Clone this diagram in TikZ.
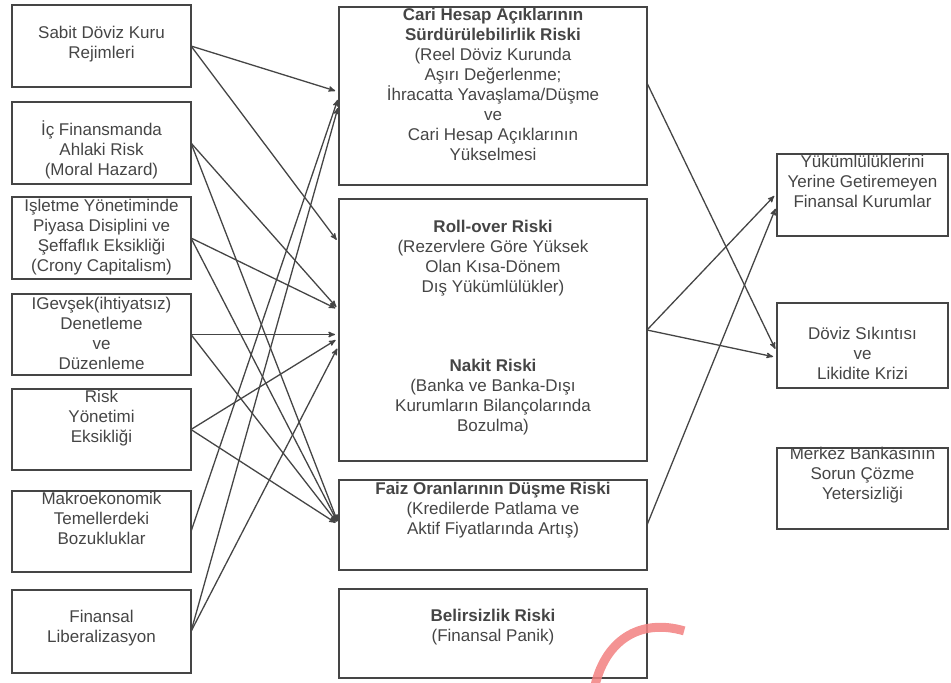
\documentclass[tikz,border=0pt]{standalone}
\usepackage{fontspec}
\setmainfont{Liberation Sans}
\usetikzlibrary{arrows,calc,positioning}
\definecolor{inkgray}{gray}{0.27}
\definecolor{stampred}{RGB}{242,128,128}

\begin{document}
\begin{tikzpicture}[x=1pt,y=-1pt,->,>=stealth',shorten >=4pt,
  line width=1.3pt,color=inkgray,
  box/.style={rectangle,draw=inkgray,line width=1.3pt,fill=none,
              inner sep=0pt,outer sep=0pt},
  cause/.style={box,minimum width=179pt},
  risk/.style={box,minimum width=308pt},
  result/.style={box,minimum width=171pt},
  every label/.style={align=center,text=inkgray,font=\fontsize{17}{20}\selectfont}]

  \useasboundingbox (0,0) rectangle (951,683);

  % causes
  \node[cause,minimum height=82pt] (L1) at (101.5,46)
    [label={[name=L1t,yshift=2pt]center:{Sabit Döviz Kuru\\Rejimleri}}] {};
  \node[cause,minimum height=82pt] (L2) [below=15pt of L1,
    label={[name=L2t,yshift=-7pt]center:{İç Finansmanda\\Ahlaki Risk\\(Moral Hazard)}}] {};
  \node[cause,minimum height=82pt] (L3) [below=13pt of L2,
    label={[name=L3t,yshift=2pt]center:{İşletme Yönetiminde\\Piyasa Disiplini ve\\Şeffaflık Eksikliği\\(Crony Capitalism)}}] {};
  \node[cause,minimum height=81pt] (L4) [below=15pt of L3,
    label={[name=L4t,yshift=1pt]center:{IGevşek(ihtiyatsız)\\Denetleme\\ve\\Düzenleme}}] {};
  \node[cause,minimum height=81pt] (L5) [below=14pt of L4,
    label={[name=L5t,yshift=11pt]center:{Risk\\Yönetimi\\Eksikliği}}] {};
  \node[cause,minimum height=81pt] (L6) [below=21pt of L5,
    label={[name=L6t,yshift=13pt]center:{Makroekonomik\\Temellerdeki\\Bozukluklar}}] {};
  \node[cause,minimum height=83pt] (L7) [below=18pt of L6,
    label={[name=L7t,yshift=3pt]center:{Finansal\\Liberalizasyon}}] {};

  % risks
  \node[risk,minimum height=178pt] (M1) at (493,96)
    [label={[name=M1t,yshift=12pt]center:{\textbf{Cari Hesap Açıklarının}\\\textbf{Sürdürülebilirlik Riski}\\(Reel Döviz Kurunda\\Aşırı Değerlenme;\\İhracatta Yavaşlama/Düşme\\ve\\Cari Hesap Açıklarının\\Yükselmesi}}] {};
  \node[risk,minimum height=262pt] (M2) [below=14pt of M1,
    label={[name=M2t,yshift=2pt]center:{\textbf{Roll-over Riski}\\(Rezervlere Göre Yüksek\\Olan Kısa-Dönem\\Dış Yükümlülükler)\\[59pt]\textbf{Nakit Riski}\\(Banka ve Banka-Dışı\\Kurumların Bilançolarında\\Bozulma)}}] {};
  \node[risk,minimum height=90pt] (M3) [below=19pt of M2,
    label={[name=M3t,yshift=15pt]center:{\textbf{Faiz Oranlarının Düşme Riski}\\(Kredilerde Patlama ve\\Aktif Fiyatlarında Artış)}}] {};
  \node[risk,minimum height=89pt] (M4) [below=19pt of M3,
    label={[name=M4t,yshift=6pt]center:{\textbf{Belirsizlik Riski}\\(Finansal Panik)}}] {};

  % results
  \node[result,minimum height=82pt] (R1) at (862.5,195)
    [label={[name=R1t,yshift=14pt]center:{Yükümlülüklerini\\Yerine Getiremeyen\\Finansal Kurumlar}}] {};
  \node[result,minimum height=85pt] (R2) [below=67pt of R1,
    label={[name=R2t,yshift=-8pt]center:{Döviz Sıkıntısı\\ve\\Likidite Krizi}}] {};
  \node[result,minimum height=81pt] (R3) [below=60pt of R2,
    label={[name=R3t,yshift=13pt]center:{Merkez Bankasının\\Sorun Çözme\\Yetersizliği}}] {};

  \coordinate (m1a) at ($(M1.west)+(0,-4)$);
  \coordinate (m1b) at ($(M1.west)+(0,8)$);
  \coordinate (m2a) at ($(M2.north west)+(0,44)$);
  \coordinate (m2b) at ($(M2.north west)+(0,111)$);
  \coordinate (m2c) at ($(M2.north west)+(0,139)$);
  \coordinate (m2d) at ($(M2.north west)+(0,146)$);
  \coordinate (m1out) at ($(M1.east)+(0,-13)$);
  \coordinate (r1a) at ($(R1.west)+(0,-2)$);
  \coordinate (r1b) at ($(R1.west)+(0,10)$);
  \coordinate (r2a) at ($(R2.west)+(0,7)$);
  \coordinate (r2b) at ($(R2.west)+(0,12)$);

  \path (L1.east) edge (m1a)
        (L1.east) edge (m2a)
        (L2.east) edge (m2b)
        (L2.east) edge (M3.west)
        (L3.east) edge (m2b)
        (L3.east) edge (M3.west)
        (L4.east) edge (M2.west |- L4.east)
        (L4.east) edge (M3.west)
        (L5.east) edge (m2c)
        (L5.east) edge (M3.west)
        (L6.east) edge (M1.west)
        (L7.east) edge (m1b)
        (L7.east) edge (m2d);

  \path (m1out) edge (r2a)
        (M2.east) edge (r1a)
        (M2.east) edge (r2b)
        (M3.east) edge (r1b);

  \draw[-,line width=9pt,stampred,opacity=0.85]
    (594,690) .. controls (604,640) and (640,618) .. (688,632);

\end{tikzpicture}
\end{document}
